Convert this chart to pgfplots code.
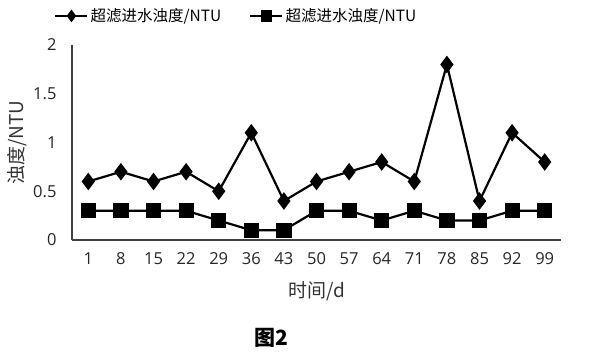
\documentclass[border=0pt]{standalone}
\usepackage{fontspec}
\usepackage{pgfplots}
\pgfplotsset{compat=1.18}
\setmainfont{Open Sans}
\newfontfamily\cjk{Noto Sans CJK SC}
\begin{document}
\begin{tikzpicture}
\path[use as bounding box] (0,0) rectangle (612pt,353pt);
\begin{axis}[
  at={(72pt,113pt)}, anchor=south west,
  scale only axis, width=489pt, height=195pt,
  xmin=-0.5, xmax=14.5, ymin=0, ymax=2,
  axis x line*=bottom, axis y line*=left,
  axis line style={black!75, line width=1.1pt},
  xtick={0,...,14},
  xticklabels={1,8,15,22,29,36,43,50,57,64,71,78,85,92,99},
  ytick={0,0.5,1,1.5,2},
  major tick length=0pt,
  /pgf/number format/assume math mode=true,
  tick label style={font=\fontsize{16.5}{18}\selectfont, text=black!85},
  xticklabel style={yshift=-9pt},
  yticklabel style={xshift=-12pt},
  xlabel={\cjk 时间/d},
  ylabel={\cjk 浊度/NTU},
  label style={font=\fontsize{19}{21}\selectfont, text=black!80},
  xlabel style={yshift=-10pt},
  ylabel style={yshift=-1pt},
  legend columns=2,
  legend style={draw=none, fill=none, at={(0.336,1.149)}, anchor=center,
    font=\cjk\fontsize{15.5}{17}\selectfont,
    /tikz/every even column/.append style={column sep=26pt}},
  legend image code/.code={\draw[mark repeat=2, mark phase=2, #1, mark size=4.5pt]
     plot coordinates {(0pt,0pt) (16pt,0pt) (32pt,0pt)};},
]
\addplot[black, line width=2.2pt, mark=diamond*, mark size=7pt, mark options={solid}]
 coordinates {(0,0.6)(1,0.7)(2,0.6)(3,0.7)(4,0.5)(5,1.1)(6,0.4)(7,0.6)(8,0.7)(9,0.8)(10,0.6)(11,1.8)(12,0.4)(13,1.1)(14,0.8)};
\addlegendentry{超滤进水浊度/NTU}
\addplot[black, line width=2.2pt, mark=square*, mark size=6.5pt, mark options={solid}]
 coordinates {(0,0.3)(1,0.3)(2,0.3)(3,0.3)(4,0.2)(5,0.1)(6,0.1)(7,0.3)(8,0.3)(9,0.2)(10,0.3)(11,0.2)(12,0.2)(13,0.3)(14,0.3)};
\addlegendentry{超滤进水浊度/NTU}
\end{axis}
\node[font=\cjk\bfseries\fontsize{21}{23}\selectfont] at (271pt,15pt) {图2};
\end{tikzpicture}
\end{document}
